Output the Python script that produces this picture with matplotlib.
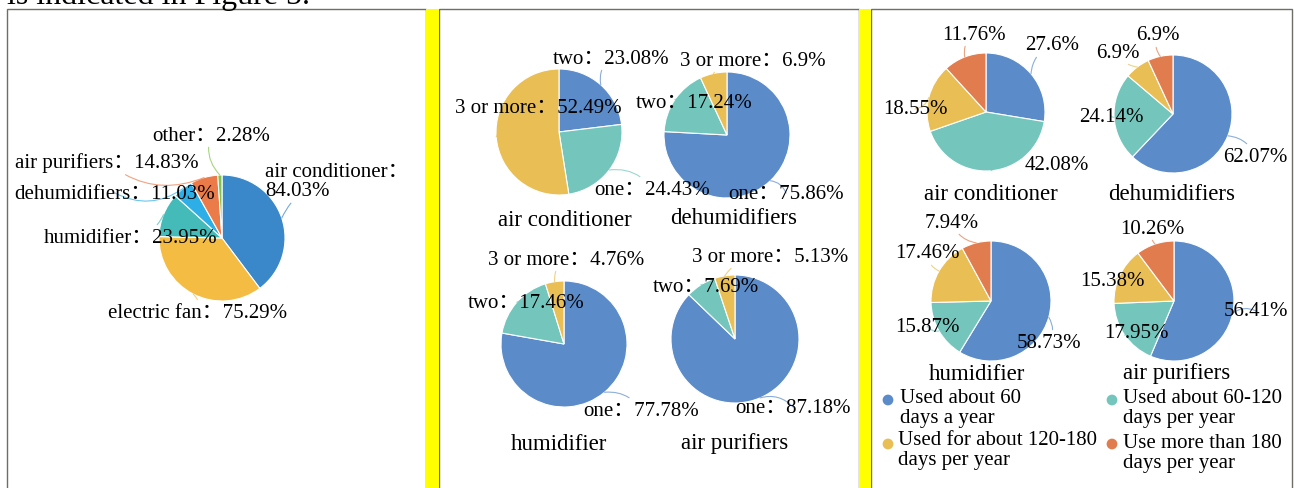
import numpy as np
import matplotlib.pyplot as plt
from matplotlib.patches import Rectangle

W, H = 1294, 489
FONT = ['Liberation Serif', 'Noto Sans CJK SC']

# panel 1: share of households owning each appliance
p1_names = ['air conditioner', 'electric fan', 'humidifier', 'dehumidifiers', 'air purifiers', 'other']
p1_values = [84.03, 75.29, 23.95, 11.03, 14.83, 2.28]
p1_colors = ['#3a87c9', '#f4bc43', '#44bbb8', '#2eaee6', '#eb7b48', '#80c34a']

# panel 2: number of units owned
devices = ['air conditioner', 'dehumidifiers', 'humidifier', 'air purifiers']
count_names = [['two', 'one', '3 or more'],
               ['one', 'two', '3 or more'],
               ['one', 'two', '3 or more'],
               ['one', 'two', '3 or more']]
count_values = [[23.08, 24.43, 52.49],
                [75.86, 17.24, 6.9],
                [77.78, 17.46, 4.76],
                [87.18, 7.69, 5.13]]
count_colors = ['#5b8bc9', '#74c6bd', '#e9be55']

# panel 3: days of use per year
usage_names = ['Used about 60\ndays a year', 'Used about 60-120\ndays per year',
               'Used for about 120-180\ndays per year', 'Use more than 180\ndays per year']
usage_values = [[27.6, 42.08, 18.55, 11.76],
                [62.07, 24.14, 6.9, 6.9],
                [58.73, 15.87, 17.46, 7.94],
                [56.41, 17.95, 15.38, 10.26]]
usage_colors = ['#5b8bc9', '#74c6bd', '#e9be55', '#e17c4e']

fig = plt.figure(figsize=(W / 100, H / 100), dpi=100)

# background: frames and yellow separators
bg = fig.add_axes([0, 0, 1, 1], zorder=0)
bg.set_xlim(0, W)
bg.set_ylim(H, 0)
bg.axis('off')
for x0, x1 in [(7, 426), (439, 859), (871, 1292)]:
    bg.add_patch(Rectangle((x0, 10), x1 - x0, 500, facecolor='white', edgecolor='#6e6e64', lw=1))
for x0, x1 in [(426, 439), (859, 871)]:
    bg.add_patch(Rectangle((x0, 10), x1 - x0, 500, facecolor='#ffff00', edgecolor='none'))
# last line of the paragraph above the figure, cut by the screenshot
bg.text(7, 4, 'is indicated in Figure 5.', fontsize=23, family=FONT, va='baseline', ha='left')

pies = []


def draw_pie(cx, cy, r, values, colors, texts, label_pos, ha=None, rad=0.3):
    ax = fig.add_axes([(cx - r) / W, 1 - (cy + r) / H, 2 * r / W, 2 * r / H], zorder=1)
    wedges, _ = ax.pie(values, colors=colors, startangle=90, counterclock=False,
                       wedgeprops=dict(edgecolor='white', linewidth=0.8))
    ax.set_xlim(-1, 1)
    ax.set_ylim(-1, 1)
    ax.axis('off')
    pies.append((cx, cy, r, wedges, texts, label_pos, ha, rad))


# panel 1
p1_texts = [f'{n}：{v:g}%' for n, v in zip(p1_names, p1_values)]
p1_texts[0] = f'{p1_names[0]}：\n{p1_values[0]:g}%'
draw_pie(222, 239, 63, p1_values, p1_colors, p1_texts,
         [(265, 182), (198, 313), (131, 238), (115, 194), (107, 163), (211, 136)],
         ha=['left', 'center', 'center', 'center', 'center', 'center'])

# panel 2
p2_layout = [(559, 133, 63, [(611, 59), (652, 190), (538, 108)], (565, 220)),
             (727, 136, 63, [(786, 194), (694, 103), (753, 61)], (734, 218)),
             (564, 345, 63, [(641, 411), (526, 303), (566, 260)], (559, 444)),
             (735, 340, 64, [(793, 408), (706, 287), (770, 257)], (735, 444))]
for dev, names, vals, (cx, cy, r, lpos, tpos) in zip(devices, count_names, count_values, p2_layout):
    texts = [f'{n}：{v:g}%' for n, v in zip(names, vals)]
    draw_pie(cx, cy, r, vals, count_colors, texts, lpos)
    bg.text(tpos[0], tpos[1], dev, fontsize=16.5, family=FONT, ha='center', va='center', zorder=5)

# panel 3
p3_layout = [(986, 113, 59, [(1052, 46), (1057, 165), (915, 110), (974, 35)], (991, 195)),
             (1173, 115, 59, [(1255, 157), (1111, 117), (1118, 53), (1158, 36)], (1172, 195)),
             (991, 302, 60, [(1049, 343), (927, 327), (927, 254), (952, 223)], (977, 374)),
             (1174, 302, 60, [(1256, 312), (1136, 334), (1112, 281), (1152, 229)], (1177, 374))]
for dev, vals, (cx, cy, r, lpos, tpos) in zip(devices, usage_values, p3_layout):
    texts = [f'{v:g}%' for v in vals]
    draw_pie(cx, cy, r, vals, usage_colors, texts, lpos)
    bg.text(tpos[0], tpos[1], dev, fontsize=16.5, family=FONT, ha='center', va='center', zorder=5)

# overlay for labels and leader lines
ov = fig.add_axes([0, 0, 1, 1], zorder=3)
ov.set_xlim(0, W)
ov.set_ylim(H, 0)
ov.axis('off')
ov.patch.set_alpha(0)

for cx, cy, r, wedges, texts, label_pos, ha, rad in pies:
    for i, (w, (tx, ty), s) in enumerate(zip(wedges, label_pos, texts)):
        mid = np.deg2rad((w.theta1 + w.theta2) / 2)
        ex, ey = cx + r * np.cos(mid), cy - r * np.sin(mid)
        h = ha[i] if ha else 'center'
        ov.annotate(s, xy=(ex, ey), xytext=(tx, ty), ha=h, va='center',
                    fontsize=15, family=FONT, linespacing=1.05,
                    arrowprops=dict(arrowstyle='-', color=w.get_facecolor(), lw=0.8, alpha=0.7,
                                    connectionstyle=f'arc3,rad={rad}', shrinkA=0, shrinkB=0))

# legend of panel 3
leg_pos = [(888, 401, 900, 400), (1112, 401, 1123, 400), (888, 445, 898, 442), (1112, 445, 1123, 445)]
for name, col, (dx, dy, lx, ly) in zip(usage_names, usage_colors, leg_pos):
    ov.scatter([dx], [dy], s=60, color=col, edgecolors='none')
    ov.text(lx, ly - 11, name, fontsize=15, family=FONT, ha='left', va='top', linespacing=1.05)

fig.savefig('out.png', dpi=100)
